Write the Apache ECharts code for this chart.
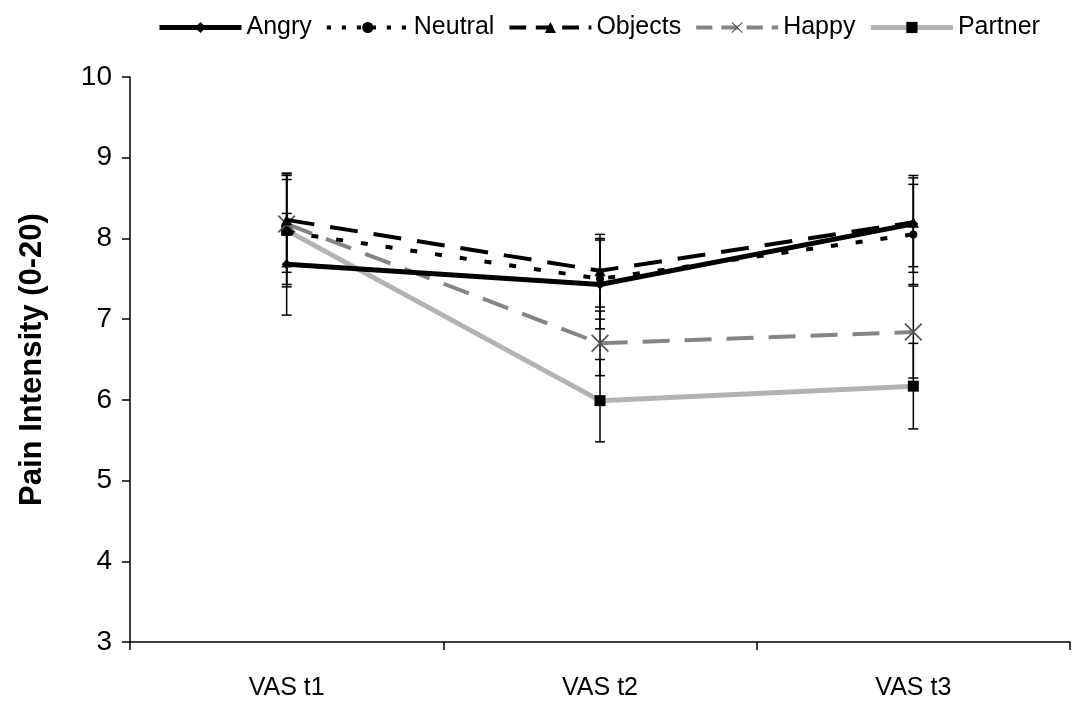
<!DOCTYPE html>
<html><head><meta charset="utf-8">
<script src="https://cdn.jsdelivr.net/npm/echarts@6/dist/echarts.min.js"></script>
<style>html,body{margin:0;padding:0;background:#fff}#c{width:1079px;height:702px}</style>
</head><body><div id="c"></div>
<script>
const categories = ['VAS t1', 'VAS t2', 'VAS t3'];
const angry = [7.68, 7.43, 8.18];
const angryErr = [0.63, 0.55, 0.6];
const neutral = [8.08, 7.5, 8.05];
const neutralErr = [0.65, 0.5, 0.62];
const objects = [8.23, 7.6, 8.2];
const objectsErr = [0.58, 0.45, 0.55];
const happy = [8.18, 6.7, 6.84];
const happyErr = [0.6, 0.4, 0.57];
const partner = [8.1, 5.99, 6.17];
const partnerErr = [0.7, 0.51, 0.53];
const yTicks = [3, 4, 5, 6, 7, 8, 9, 10];
const seriesNames = ['Angry', 'Neutral', 'Objects', 'Happy', 'Partner'];

const font = '"Liberation Sans", Arial, sans-serif';
const X_PATH = 'path://M0,0.7L0.7,0L10,9.3L9.3,10Z M9.3,0L10,0.7L0.7,10L0,9.3Z';

function errSeries(vals, errs) {
  return {
    type: 'custom',
    silent: true,
    z: 1,
    data: vals.map((v, i) => [i, v - errs[i], v + errs[i]]),
    renderItem: function (params, api) {
      const lo = api.coord([api.value(0), api.value(1)]);
      const hi = api.coord([api.value(0), api.value(2)]);
      const w = 5;
      const st = { stroke: '#000', lineWidth: 1.5 };
      return { type: 'group', children: [
        { type: 'line', shape: { x1: lo[0], y1: lo[1], x2: hi[0], y2: hi[1] }, style: st },
        { type: 'line', shape: { x1: lo[0] - w, y1: lo[1], x2: lo[0] + w, y2: lo[1] }, style: st },
        { type: 'line', shape: { x1: hi[0] - w, y1: hi[1], x2: hi[0] + w, y2: hi[1] }, style: st }
      ]};
    }
  };
}

const lineStyles = {
  Angry: { color: '#000', width: 5, type: 'solid' },
  Neutral: { color: '#000', width: 4, type: [7, 18] },
  Objects: { color: '#000', width: 4, type: [28, 16] },
  Happy: { color: '#858585', width: 4, type: [27, 15] },
  Partner: { color: '#b3b3b3', width: 5, type: 'solid' }
};

const chart = echarts.init(document.getElementById('c'));
chart.setOption({
  animation: false,
  backgroundColor: '#fff',
  legend: {
    top: 10, left: 152,
    itemWidth: 82, itemHeight: 14, itemGap: 13,
    textStyle: { fontFamily: font, fontSize: 25, color: '#000' },
    data: seriesNames.map(n => ({ name: n, lineStyle: { width: lineStyles[n].width, type: lineStyles[n].type === 'solid' ? 'solid' : [lineStyles[n].type[0] * 0.6, lineStyles[n].type[1] * 0.6] } }))
  },
  grid: { left: 130, right: 9, top: 77, bottom: 60 },
  xAxis: {
    type: 'category', data: categories, boundaryGap: true,
    axisLine: { lineStyle: { color: '#000', width: 1.5 } },
    axisTick: { show: true, length: 8, lineStyle: { color: '#000', width: 1.5 } },
    axisLabel: { fontFamily: font, fontSize: 25, color: '#000', margin: 34 }
  },
  yAxis: {
    type: 'value', min: 3, max: 10, interval: 1,
    name: 'Pain Intensity (0-20)', nameLocation: 'middle', nameGap: 82,
    nameTextStyle: { fontFamily: font, fontSize: 31, fontWeight: 'bold', color: '#000' },
    splitLine: { show: false },
    axisLine: { show: true, lineStyle: { color: '#000', width: 1.5 } },
    axisTick: { show: true, length: 8, lineStyle: { color: '#000', width: 1.5 } },
    axisLabel: { fontFamily: font, fontSize: 28, color: '#000', margin: 18,
      formatter: v => yTicks.indexOf(v) >= 0 ? String(v) : '' }
  },
  series: [
    errSeries(angry, angryErr), errSeries(neutral, neutralErr), errSeries(objects, objectsErr),
    errSeries(happy, happyErr), errSeries(partner, partnerErr),
    { name: 'Partner', type: 'line', data: partner, z: 2,
      symbol: 'rect', symbolSize: 11,
      lineStyle: lineStyles.Partner,
      itemStyle: { color: '#000' } },
    { name: 'Happy', type: 'line', data: happy, z: 3,
      symbol: X_PATH, symbolSize: 18,
      lineStyle: lineStyles.Happy,
      itemStyle: { color: '#555' } },
    { name: 'Objects', type: 'line', data: objects, z: 4,
      symbol: 'triangle', symbolSize: 11,
      lineStyle: lineStyles.Objects,
      itemStyle: { color: '#000' } },
    { name: 'Neutral', type: 'line', data: neutral, z: 5,
      symbol: 'circle', symbolSize: 8,
      lineStyle: lineStyles.Neutral,
      itemStyle: { color: '#000' } },
    { name: 'Angry', type: 'line', data: angry, z: 6,
      symbol: 'diamond', symbolSize: 10,
      lineStyle: lineStyles.Angry,
      itemStyle: { color: '#000' } }
  ]
});
</script></body></html>
